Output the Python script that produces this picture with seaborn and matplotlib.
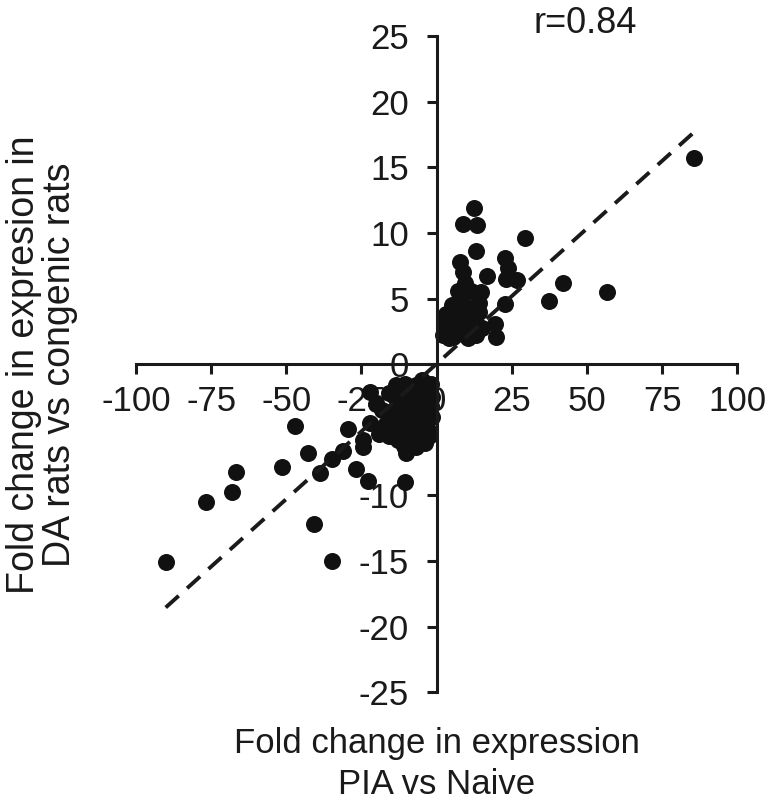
import numpy as np
import matplotlib
matplotlib.use('Agg')
import matplotlib.pyplot as plt
import seaborn as sns

# Fold change PIA vs Naive (x) against DA vs congenic (y)
pia_up = [85.5, 29.5, 12.4, 8.8, 13.6, 13.2, 7.7, 22.7, 23.8, 8.8, 16.6, 23.2, 26.6,
          7.1, 11.6, 14.9, 22.7, 19.3, 19.9, 42.1, 37.3, 56.6, 2.7, 9.5, 8.0,
          2.0, 3.5, 4.5, 5.5, 6.0, 7.0, 8.0, 9.0, 10.0, 11.0, 12.0, 13.0, 14.0,
          3.0, 5.0, 8.5, 10.5, 12.5, 6.5, 4.0, 7.5, 11.5, 13.5, 2.5, 9.5, 5.8, 15.0, 14.0]
da_up = [15.7, 9.6, 11.9, 10.7, 10.6, 8.6, 7.8, 8.1, 7.3, 7.0, 6.7, 6.5, 6.4,
         5.6, 5.6, 5.5, 4.6, 3.1, 2.1, 6.2, 4.8, 5.5, 2.3, 6.2, 4.8,
         2.2, 2.6, 3.4, 2.1, 4.2, 3.0, 2.4, 3.8, 2.8, 4.3, 3.3, 2.2, 4.0,
         3.8, 4.5, 4.5, 2.0, 3.8, 2.6, 2.0, 3.6, 2.5, 3.0, 3.2, 2.2, 3.1, 2.8, 4.7]

pia_down = [-90.1, -76.8, -68.1, -66.8, -51.4, -47.0, -42.8, -40.7, -34.8, -38.8, -34.9,
            -31.2, -29.6, -26.8, -24.6, -22.9, -22.2, -10.5, -10.1, -22.3, -19.0, -24.6,
            -14.6, -5.7,
            -14.0, -13.0, -12.0, -11.0, -10.0, -9.0, -8.0, -7.0, -6.0, -5.0, -4.0, -3.0,
            -2.0, -2.5, -12.5, -8.5, -6.5, -4.5, -10.5, -15.0, -7.5, -3.5, -11.5, -13.5,
            -1.5, -9.5, -16.0, -18.0, -20.0, -17.0, -5.0,
            -13.0, -11.0, -9.0, -7.0, -5.0, -3.0, -1.5, -12.0, -8.0, -6.0, -4.0, -10.0,
            -14.0, -2.0, -7.0, -16.0]
da_down = [-15.1, -10.5, -9.7, -8.2, -7.8, -4.7, -6.8, -12.2, -15.0, -8.3, -7.2,
           -6.6, -4.9, -8.0, -6.3, -8.9, -2.1, -9.0, -6.8, -4.5, -5.3, -5.8,
           -5.5, -5.5,
           -2.5, -4.0, -1.8, -3.2, -5.0, -2.2, -4.2, -1.6, -3.0, -4.8, -2.0, -3.6,
           -1.5, -5.5, -5.5, -6.0, -5.8, -1.4, -1.5, -3.6, -3.4, -2.8, -4.4, -1.6,
           -4.0, -3.8, -2.2, -3.5, -3.0, -4.6, -1.2,
           -5.8, -6.2, -5.2, -6.3, -3.5, -5.0, -2.5, -3.0, -3.0, -4.5, -6.0, -4.0,
           -4.8, -3.2, -2.5, -5.5]

x_vals = np.array(pia_up + pia_down)
y_vals = np.array(da_up + da_down)

x_ticks = [-100, -75, -50, -25, 0, 25, 50, 75, 100]
y_ticks = [-25, -20, -15, -10, -5, 0, 5, 10, 15, 20, 25]

sns.set_theme(style='white')
plt.rcParams['font.family'] = ['Liberation Sans', 'DejaVu Sans']
plt.rcParams['axes.unicode_minus'] = False

fig = plt.figure(figsize=(7.68, 8.05), dpi=100)
ax = fig.add_axes([0.177, 0.140, 0.783, 0.815])

sns.regplot(x=x_vals, y=y_vals, ax=ax, ci=None,
            scatter_kws=dict(s=150, color='#111111', linewidths=0, alpha=1),
            line_kws=dict(color='#1a1a1a', lw=2.8, ls=(0, (4.5, 2.9))))

ax.set_xlim(-100, 100)
ax.set_ylim(-25, 25)
ax.set_xticks(x_ticks)
ax.set_yticks(y_ticks)

# axes crossing at the origin
ax.spines['left'].set_position(('data', 0))
ax.spines['bottom'].set_position(('data', 0))
ax.spines['top'].set_visible(False)
ax.spines['right'].set_visible(False)
for side in ['left', 'bottom']:
    ax.spines[side].set_color('#1a1a1a')
    ax.spines[side].set_linewidth(2.2)

ax.tick_params(axis='x', direction='out', length=7, width=2.2, color='#1a1a1a',
               labelsize=25, pad=8, bottom=True)
ax.tick_params(axis='y', direction='out', length=7, width=2.2, color='#1a1a1a',
               labelsize=25, pad=13, left=True)
for lab in ax.get_xticklabels() + ax.get_yticklabels():
    lab.set_color('#1a1a1a')

ax.set_xlabel('Fold change in expression\nPIA vs Naive', fontsize=25, color='#1a1a1a',
              linespacing=1.3, va='top')
ax.xaxis.set_label_coords(0.5, -0.053)
ax.set_ylabel('Fold change in expresion in\nDA rats vs congenic rats', fontsize=27,
              color='#1a1a1a', linespacing=0.98)
ax.yaxis.set_label_coords(-0.097, 0.5)

ax.text(0.747, 1.02, 'r=0.84', transform=ax.transAxes, fontsize=26,
        color='#1a1a1a', ha='center', va='center')

fig.savefig('out.png', dpi=100)
